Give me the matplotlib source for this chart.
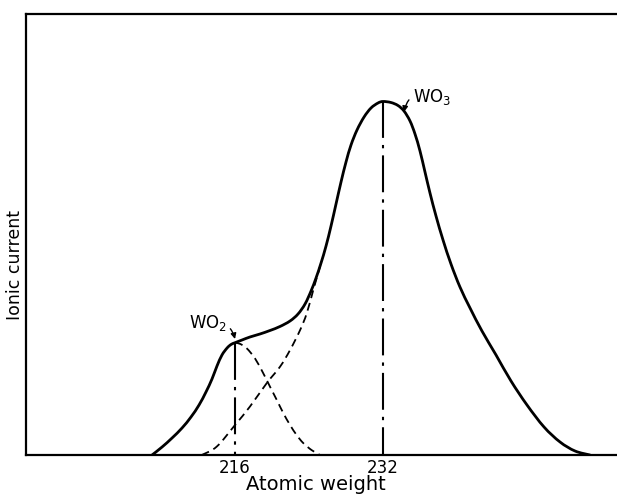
import matplotlib
matplotlib.use("Agg")
import matplotlib.pyplot as plt
from matplotlib.path import Path
from matplotlib.patches import PathPatch

# Total ion current (solid envelope)
total_x = [207.03, 208.11, 209.19, 210.27, 211.24, 212.11, 212.86, 213.51, 214.05, 214.59,
           215.14, 215.57, 216.00, 216.76, 217.62, 218.70, 219.78, 220.86, 221.95, 222.81,
           223.57, 224.22, 224.76, 225.30, 225.84, 226.38, 226.92, 227.46, 228.00, 228.54,
           229.19, 229.95, 230.70, 231.46, 232.00, 232.86, 233.62, 234.27, 234.92, 235.46,
           236.00, 236.54, 237.08, 237.73, 238.49, 239.35, 240.32, 241.41, 242.70, 244.22,
           245.84, 247.57, 249.41, 251.14, 252.76, 254.38]
total_y = [0.0, 1.81, 3.85, 6.12, 8.62, 11.34, 14.29, 17.23, 20.18, 22.68,
           24.26, 25.06, 25.46, 26.08, 26.76, 27.44, 28.23, 29.14, 30.39, 31.97,
           34.24, 37.19, 40.14, 43.54, 47.39, 51.93, 56.92, 61.90, 66.44, 70.29,
           73.70, 76.64, 78.68, 79.82, 80.16, 79.93, 79.25, 78.00, 75.74, 72.79,
           68.93, 64.17, 59.41, 54.20, 48.75, 43.31, 38.10, 33.33, 28.12, 22.68,
           16.78, 11.34, 6.35, 2.95, 0.91, 0.0]

# WO2 component (dashed, right flank)
wo2_x = [216.0, 216.54, 217.26, 218.16, 219.06, 219.78, 220.51, 221.22, 221.95, 222.67,
         223.38, 224.29, 225.19]
wo2_y = [25.46, 25.2, 24.2, 21.9, 18.5, 15.5, 12.5, 9.5, 6.8, 4.5, 2.7, 1.1, 0.0]

# WO3 component (dashed, rising flank)
wo3_x = [212.4, 214.02, 216.0, 217.62, 219.43, 220.86, 221.95, 223.03, 223.75, 224.46,
         224.95, 225.30]
wo3_y = [0.0, 1.9, 6.8, 11.0, 16.3, 20.0, 23.8, 28.3, 32.1, 37.4, 41.0, 43.54]

peak_x = [216, 232]
peak_y = [25.46, 80.16]
tick_labels = ["216", "232"]


def smooth_path(xs, ys):
    """Catmull-Rom curve through the read points, drawn as cubic Bezier segments."""
    pts = list(zip(xs, ys))
    verts = [pts[0]]
    codes = [Path.MOVETO]
    n = len(pts)
    for i in range(n - 1):
        p0 = pts[i - 1] if i > 0 else pts[i]
        p1 = pts[i]
        p2 = pts[i + 1]
        p3 = pts[i + 2] if i + 2 < n else pts[i + 1]
        c1 = (p1[0] + (p2[0] - p0[0]) / 6, p1[1] + (p2[1] - p0[1]) / 6)
        c2 = (p2[0] - (p3[0] - p1[0]) / 6, p2[1] - (p3[1] - p1[1]) / 6)
        verts += [c1, c2, p2]
        codes += [Path.CURVE4] * 3
    return Path(verts, codes)


fig = plt.figure(figsize=(6.17, 4.96), dpi=100)
ax = fig.add_axes([26/617, 41/496, 591/617, 441/496])
ax.set_xlim(193.4, 257.3)
ax.set_ylim(0, 100)

for s in ["left", "top", "bottom"]:
    ax.spines[s].set_linewidth(1.6)
    ax.spines[s].set_color("black")
ax.spines["right"].set_visible(False)

ax.add_patch(PathPatch(smooth_path(total_x, total_y), fill=False, edgecolor="black",
                       lw=2.0, joinstyle="round", capstyle="round"))
ax.add_patch(PathPatch(smooth_path(wo2_x, wo2_y), fill=False, edgecolor="black",
                       lw=1.3, linestyle=(0, (4.4, 2.8))))
ax.add_patch(PathPatch(smooth_path(wo3_x, wo3_y), fill=False, edgecolor="black",
                       lw=1.3, linestyle=(0, (4.4, 2.8))))

for px, py in zip(peak_x, peak_y):
    ax.plot([px, px], [py, 0], color="black", lw=1.5,
            linestyle=(0, (17.7, 3.4, 1.6, 3.4)))

ax.set_xticks(peak_x)
ax.set_xticklabels(tick_labels, fontsize=12)
ax.tick_params(axis="x", length=0, pad=3)
ax.set_yticks([])

fig.text(316/617, 1 - 485/496, "Atomic weight", ha="center", va="center", fontsize=14)
fig.text(15/617, 1 - 265/496, "Ionic current", ha="center", va="center",
         rotation=90, fontsize=12.5)

ax.annotate("WO$_2$", xy=(216.0, 26.3), xytext=(215.1, 29.9),
            ha="right", va="center", fontsize=12,
            arrowprops=dict(arrowstyle="-|>", color="black", lw=1.0,
                            mutation_scale=8,
                            connectionstyle="arc3,rad=-0.5", shrinkA=1, shrinkB=0))
ax.annotate("WO$_3$", xy=(234.27, 77.8), xytext=(235.2, 81.2),
            ha="left", va="center", fontsize=12,
            arrowprops=dict(arrowstyle="-|>", color="black", lw=1.0,
                            mutation_scale=8,
                            connectionstyle="arc3,rad=0.6", shrinkA=1, shrinkB=0))

fig.savefig("out.png", dpi=100, facecolor="white")
